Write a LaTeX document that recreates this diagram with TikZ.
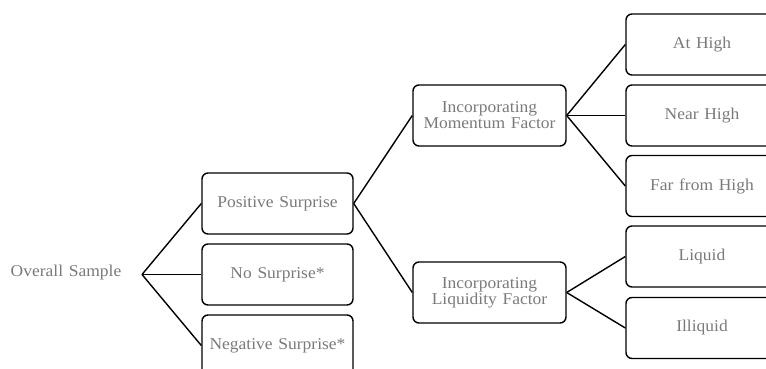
\documentclass[tikz,border=0pt]{standalone}
\usepackage{fontspec}
\setmainfont{Liberation Serif}[FakeStretch=1.06,WordSpace=1.3]
\usepackage{tikz}

\definecolor{labelgray}{RGB}{122,122,122}

\begin{document}
\begin{tikzpicture}[x=1pt, y=-1pt,
        box/.style={draw, line width=1.4pt, rounded corners=6pt, inner sep=0pt,
            minimum width=152pt, minimum height=61pt, align=center,
            text=labelgray, font=\fontsize{16.5}{16}\selectfont},
        link/.style={line width=1.4pt}]

        \useasboundingbox (0,0) rectangle (766,369);
        \clip (0,0) rectangle (766,369);

        % root
        \node[text=labelgray, font=\fontsize{16.5}{16}\selectfont] (overall) at (66, 273) {Overall Sample};
        \coordinate (split) at (142, 274.5);

        % surprise boxes
        \node[box, minimum width=151pt] (pos) at (277.5, 203.5) {Positive Surprise};
        \node[box, minimum width=151pt] (nos) at (277.5, 274.5) {No Surprise*};
        \node[box, minimum width=151pt] (neg) at (277.5, 345.5) {Negative Surprise*};

        % factor boxes
        \node[box, minimum width=153pt] (mom) at (489.5, 115.5) {Incorporating\\Momentum Factor};
        \node[box, minimum width=153pt] (liq) at (489.5, 292.5) {Incorporating\\Liquidity Factor};

        % leaves
        \node[box] (ath) at (702, 44.5) {At High};
        \node[box] (nrh) at (702, 115.5) {Near High};
        \node[box] (far) at (702, 186) {Far from High};
        \node[box] (lqd) at (702, 256.5) {Liquid};
        \node[box] (ill) at (702, 328) {Illiquid};

        \draw[link] (split) -- (pos.west);
        \draw[link] (split) -- (nos.west);
        \draw[link] (split) -- (neg.west);

        \draw[link] (pos.east) -- (mom.west);
        \draw[link] (pos.east) -- (liq.west);

        \draw[link] (mom.east) -- (ath.west);
        \draw[link] (mom.east) -- (nrh.west);
        \draw[link] (mom.east) -- (far.west);

        \draw[link] (liq.east) -- (lqd.west);
        \draw[link] (liq.east) -- (ill.west);

    \end{tikzpicture}
\end{document}
